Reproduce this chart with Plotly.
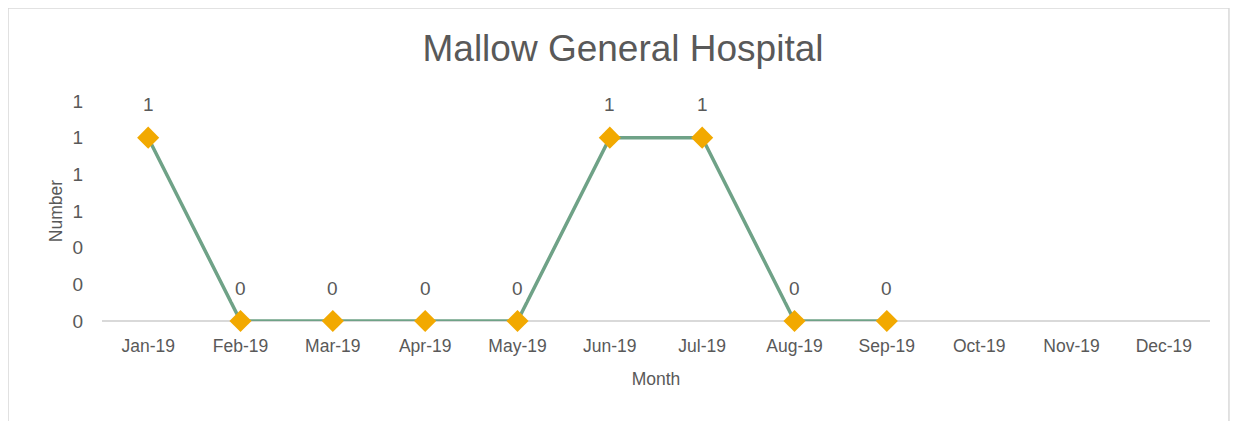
import plotly.graph_objects as go

months = ["Jan-19", "Feb-19", "Mar-19", "Apr-19", "May-19", "Jun-19",
          "Jul-19", "Aug-19", "Sep-19", "Oct-19", "Nov-19", "Dec-19"]
values = [1, 0, 0, 0, 0, 1, 1, 0, 0, None, None, None]
y_tick_vals = [0, 0.2, 0.4, 0.6, 0.8, 1.0, 1.2]
y_tick_text = ["0", "0", "0", "1", "1", "1", "1"]

FONT = "Liberation Sans, Arial, sans-serif"
GREY = "#595959"

fig = go.Figure()
fig.add_trace(go.Scatter(
    x=months, y=values, mode="lines+markers",
    line=dict(color="#6FA287", width=3.5),
    marker=dict(symbol="diamond", size=17, color="#F2A900"),
    connectgaps=False, showlegend=False, hoverinfo="x+y",
    cliponaxis=False,
))

for m, v in zip(months, values):
    if v is None:
        continue
    fig.add_annotation(
        x=m, y=v, text=f"{v:.0f}", showarrow=False, yshift=33,
        bgcolor="white", borderpad=2,
        font=dict(family=FONT, size=19, color=GREY),
    )

fig.add_shape(type="rect", xref="paper", yref="paper",
              x0=-0.0848, x1=1.0171, y0=-0.5, y1=1.4227,
              line=dict(color="#D9D9D9", width=1.5), layer="below")

fig.update_layout(
    width=1230, height=413,
    margin=dict(l=94, r=28, t=93, b=100),
    paper_bgcolor="white", plot_bgcolor="white",
    title=dict(text="Mallow General Hospital", x=0.5, xanchor="center",
               y=0.903, yanchor="middle",
               font=dict(family=FONT, size=37, color=GREY)),
    font=dict(family=FONT, color=GREY, size=17),
)
fig.update_xaxes(
    type="category", range=[-0.5, 11.5], automargin=False,
    showgrid=False, showline=False, zeroline=False, ticks="",
    ticklabelstandoff=12,
    tickfont=dict(family=FONT, size=17.5, color=GREY),
    title=dict(text="Month", font=dict(family=FONT, size=17.5, color=GREY), standoff=18),
)
fig.update_yaxes(
    range=[0, 1.2], tickvals=y_tick_vals, ticktext=y_tick_text, automargin=False,
    showgrid=False, showline=False, zeroline=True, zerolinecolor="#D9D9D9",
    zerolinewidth=1.5, ticks="", ticklabelstandoff=18,
    tickfont=dict(family=FONT, size=19, color=GREY),
    title=dict(text="Number", font=dict(family=FONT, size=17.5, color=GREY), standoff=5),
)

fig.write_html("out.html")
